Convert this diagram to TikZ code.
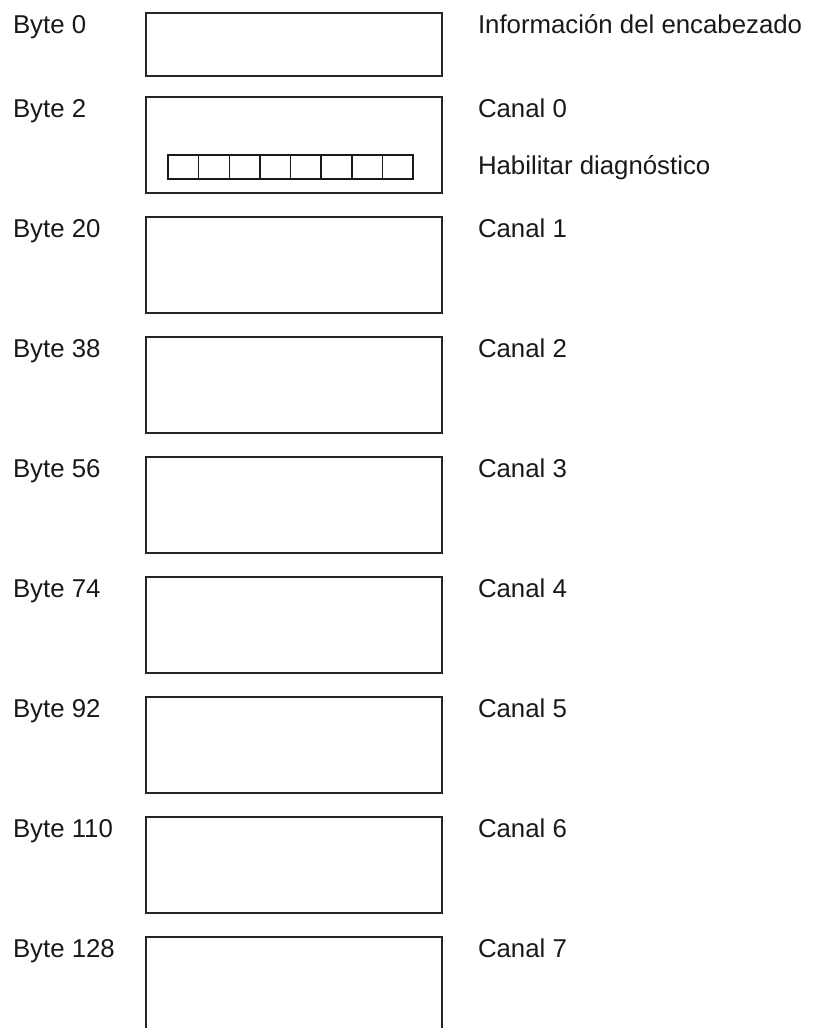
\documentclass[tikz,border=0pt]{standalone}
\usepackage{fontspec}
\setmainfont{Liberation Sans}
\begin{document}
\begin{tikzpicture}[x=1bp,y=-1bp,
  every node/.style={font=\fontsize{25.8bp}{30bp}\selectfont, inner sep=0pt, outer sep=0pt},
  regbox/.style={draw=black!85, line width=1.6bp, anchor=north west, minimum width=296bp},
  cellbox/.style={draw=black!90, line width=1.5bp, anchor=north west, minimum width=30.625bp, minimum height=24bp},
  lbl/.style={anchor=base west, text=black!90}]
\useasboundingbox (0,0) rectangle (819,1028);
\clip (0,0) rectangle (819,1028);
% boxes
\node[regbox, minimum height=63bp] (b0) at (146,13) {};
\node[regbox, minimum height=96bp] (b2) at (146,97) {};
\foreach \n/\t in {20/217,38/337,56/457,74/577,92/697,110/817} {
  \node[regbox, minimum height=96bp] (b\n) at (146,\t) {};
}
\node[regbox, minimum height=120bp] (b128) at (146,937) {};
% diagnostic cells
\foreach \i in {0,...,7} {
  \node[cellbox] (c\i) at ({168+30.625*\i},155) {};
}
% left labels
\node[lbl] (l0) at (13,33.5) {Byte 0};
\node[lbl] (l2) at (13,117.5) {Byte 2};
\foreach \n/\t in {20/217,38/337,56/457,74/577,92/697,110/817,128/937} {
  \node[lbl] (l\n) at (13,\t+20.5) {Byte \n};
}
% right labels
\node[lbl] (r0) at (478,33.5) {Información del encabezado};
\node[lbl] (rc0) at (478,117.5) {Canal 0};
\node[lbl] (rd) at (478,174) {Habilitar diagnóstico};
\foreach \k/\t in {1/217,2/337,3/457,4/577,5/697,6/817,7/937} {
  \node[lbl] (rc\k) at (478,\t+20.5) {Canal \k};
}
\end{tikzpicture}
\end{document}
